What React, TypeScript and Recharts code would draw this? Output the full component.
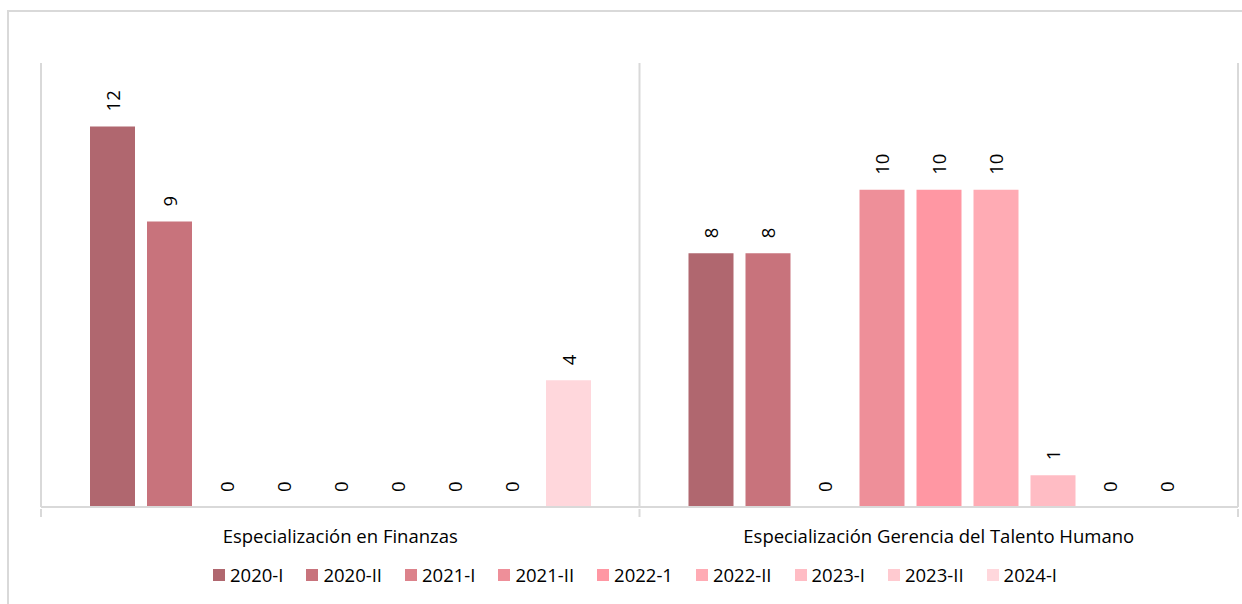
import React from 'react';
import { BarChart, Bar, XAxis, YAxis, CartesianGrid, Legend, LabelList } from 'recharts';

const categories = ['Especialización en Finanzas', 'Especialización Gerencia del Talento Humano'];
const seriesNames = ['2020-I', '2020-II', '2021-I', '2021-II', '2022-1', '2022-II', '2023-I', '2023-II', '2024-I'];
const v2020I = [12, 8];
const v2020II = [9, 8];
const v2021I = [0, 0];
const v2021II = [0, 10];
const v2022_1 = [0, 10];
const v2022II = [0, 10];
const v2023I = [0, 1];
const v2023II = [0, 0];
const v2024I = [4, 0];
const seriesValues = [v2020I, v2020II, v2021I, v2021II, v2022_1, v2022II, v2023I, v2023II, v2024I];
const colors = ['#b0676f', '#c8737c', '#dc828b', '#ee8f99', '#ff97a3', '#ffabb4', '#ffbcc4', '#ffcad0', '#ffd7dc'];

const data = categories.map((c, i) => {
  const row: any = { name: c };
  seriesNames.forEach((s, j) => {
    row[s] = seriesValues[j][i];
  });
  return row;
});

const FONT = '"Open Sans", Lato, sans-serif';
const FS = 18.5;
const GRID = '#d9d9d9';

const ValueLabel = (props: any) => {
  const { x, y, width, value } = props;
  const cx = x + width / 2;
  const cy = y - 15;
  return (
    <text
      x={cx}
      y={cy}
      transform={`rotate(-90, ${cx}, ${cy})`}
      textAnchor="start"
      dominantBaseline="central"
      fontSize={FS}
      fontFamily={FONT}
      fill="#000"
    >
      {String(value)}
    </text>
  );
};

const CategoryTick = (props: any) => {
  const { x, y, payload, index, visibleTicksCount } = props;
  const half = payload.offset || 0;
  return (
    <g>
      <line x1={x - half} x2={x - half} y1={y - 6} y2={y + 2} stroke={GRID} strokeWidth={2} />
      {index === visibleTicksCount - 1 && (
        <line x1={x + half} x2={x + half} y1={y - 6} y2={y + 2} stroke={GRID} strokeWidth={2} />
      )}
      <text x={x} y={y + 28} textAnchor="middle" fontSize={FS} fontFamily={FONT} fill="#000">
        {payload.value}
      </text>
    </g>
  );
};

const LegendContent = (props: any) => {
  const { payload } = props;
  return (
    <div
      style={{
        display: 'flex',
        justifyContent: 'center',
        alignItems: 'center',
        height: 20,
        fontFamily: FONT,
        fontSize: FS,
        color: '#000',
      }}
    >
      {(payload || []).map((p: any, i: number) => (
        <div key={i} style={{ display: 'flex', alignItems: 'center', marginRight: i === payload.length - 1 ? 0 : 23 }}>
          <span style={{ display: 'inline-block', width: 12, height: 12, background: p.color, marginRight: 5 }} />
          <span style={{ lineHeight: '20px' }}>{p.value}</span>
        </div>
      ))}
    </div>
  );
};

export default function App() {
  return (
    <div
      style={{
        position: 'absolute',
        left: 0,
        top: 0,
        width: 1242,
        height: 604,
        overflow: 'hidden',
        background: '#fff',
        fontFamily: FONT,
      }}
    >
      <div
        style={{
          position: 'absolute',
          left: 7,
          top: 10,
          width: 1250,
          height: 620,
          border: `2px solid ${GRID}`,
          boxSizing: 'border-box',
        }}
      />
      <div style={{ position: 'absolute', left: 0, top: 0 }}>
        <BarChart
          width={1242}
          height={604}
          data={data}
          margin={{ top: 63, right: 4, bottom: 19, left: 41 }}
          barSize={45}
          barGap={12}
        >
          <CartesianGrid
            horizontal={false}
            vertical
            stroke={GRID}
            strokeWidth={2}
            verticalCoordinatesGenerator={({ offset }: any) => [
              offset.left,
              offset.left + offset.width / 2,
              offset.left + offset.width,
            ]}
          />
          <XAxis
            dataKey="name"
            height={58}
            axisLine={{ stroke: GRID, strokeWidth: 2 }}
            tickLine={false}
            tick={<CategoryTick />}
            interval={0}
          />
          <YAxis hide domain={[0, 14]} />
          <Legend verticalAlign="bottom" content={<LegendContent />} wrapperStyle={{ left: 28, width: 1214 }} />
          {seriesNames.map((s, i) => (
            <Bar key={s} dataKey={s} fill={colors[i]} minPointSize={0.01} isAnimationActive={false}>
              <LabelList dataKey={s} content={<ValueLabel />} />
            </Bar>
          ))}
        </BarChart>
      </div>
    </div>
  );
}
